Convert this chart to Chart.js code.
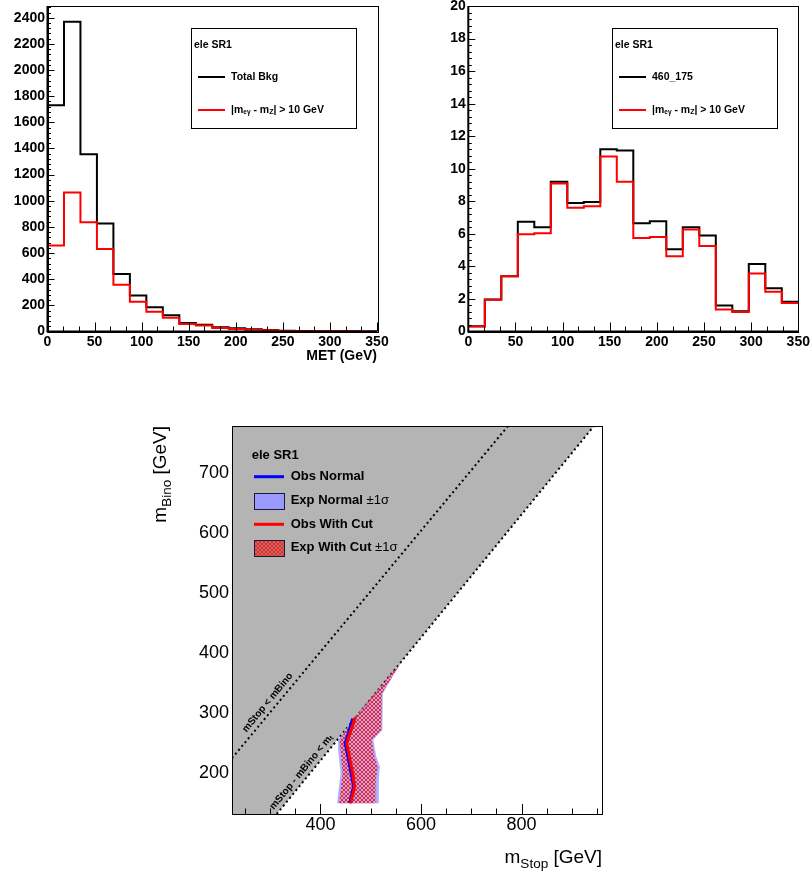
<!DOCTYPE html>
<html>
<head>
<meta charset="utf-8">
<script src="https://cdn.jsdelivr.net/npm/chart.js@4.4.0/dist/chart.umd.min.js"></script>
<style>
html, body { margin: 0; padding: 0; background: #fff; }
#wrap { position: relative; width: 812px; height: 873px; overflow: hidden; }
canvas { position: absolute; }
</style>
</head>
<body>
<div id="wrap">
  <canvas id="met" width="406" height="370" style="left:0;top:0"></canvas>
  <canvas id="sig" width="406" height="370" style="left:406px;top:0"></canvas>
  <canvas id="limit" width="510" height="473" style="left:130px;top:400px"></canvas>
</div>
<script>
const FONT = '"Liberation Sans", Arial, Helvetica, sans-serif';
Chart.defaults.font.family = FONT;
Chart.defaults.color = '#000';

// MET distributions, 20 bins of 17.5 GeV
const metBinWidth = 17.5;
const metTicks = [0, 50, 100, 150, 200, 250, 300, 350];
const totalBkg    = [1730, 2370, 1355, 826, 440, 276, 185, 125, 65, 51, 32, 24, 17, 12, 5, 3, 2, 1, 1, 0];
const totalBkgCut = [657, 1063, 835, 632, 357, 228, 151, 106, 57, 45, 26, 20, 13, 10, 4, 2, 1, 1, 0, 0];
const bkgTicks = [0, 200, 400, 600, 800, 1000, 1200, 1400, 1600, 1800, 2000, 2200, 2400];
const sig460    = [0.33, 1.97, 3.4, 6.75, 6.4, 9.2, 7.9, 7.95, 11.2, 11.12, 6.65, 6.78, 5.05, 6.4, 5.9, 1.6, 1.25, 4.15, 2.65, 1.83];
const sig460Cut = [0.3, 1.95, 3.4, 5.97, 6.03, 9.1, 7.6, 7.7, 10.75, 9.2, 5.75, 5.8, 4.63, 6.27, 5.25, 1.35, 1.2, 3.57, 2.45, 1.75];
const sigTicks = [0, 2, 4, 6, 8, 10, 12, 14, 16, 18, 20];

// exclusion plane (mStop, mBino)
const stopTicks = [400, 600, 800];
const binoTicks = [200, 300, 400, 500, 600, 700];
const kinRegion = [[224, 132], [313, 132], [944, 779], [224, 779]];
const lineStopBino = [[224, 225], [773, 779]];
const lineStopBinoTop = [[313, 132], [944, 779]];
const expNormalBand = [[433, 150], [440, 200], [435, 239], [435, 256], [468, 293], [561, 386], [524, 333], [523, 272], [505, 256], [511, 228], [518, 211], [516, 189], [516, 150]];
const expCutBand = [[437, 150], [444, 200], [440, 239], [438, 256], [468, 293], [561, 386], [522, 333], [521, 272], [502, 256], [507, 228], [514, 211], [510, 189], [509, 150]];
const obsNormal = [[458, 150], [466, 178], [461, 200], [452, 239], [449, 250], [456, 268], [464, 291]];
const obsCut = [[460, 150], [468, 178], [464, 200], [455, 239], [452, 250], [458, 265], [469, 293]];

function histPoints(vals) {
    const pts = vals.map((v, i) => ({x: i * metBinWidth, y: v}));
    pts.push({x: vals.length * metBinWidth, y: vals[vals.length - 1]});
    return pts;
}

function toXY(pts, close) {
    const out = pts.map(p => ({x: p[0], y: p[1]}));
    if (close) out.push({x: pts[0][0], y: pts[0][1]});
    return out;
}

function drawPieces(ctx, x, y, pieces) {
    let cx = x;
    for (const p of pieces) {
        ctx.font = p.font;
        ctx.fillText(p.t, cx, y + (p.dy || 0));
        cx += ctx.measureText(p.t).width;
    }
}

function piecesWidth(ctx, pieces) {
    let w = 0;
    for (const p of pieces) {
        ctx.font = p.font;
        w += ctx.measureText(p.t).width;
    }
    return w;
}

const plain = v => String(v);

// ROOT style inner ticks and frame
const rootFrame = {
    id: 'rootFrame',
    afterDatasetsDraw(chart, args, o) {
        const {ctx, chartArea: a, scales} = chart;
        ctx.save();
        ctx.strokeStyle = '#000';
        ctx.lineWidth = 1;
        ctx.beginPath();
        const tk = (s, t, horiz) => {
            const [major, sub, lenMaj, lenMin] = t;
            const step = major / sub;
            for (let k = Math.ceil(s.min / step - 1e-6); k * step <= s.max + 1e-6; k++) {
                const len = k % sub === 0 ? lenMaj : lenMin;
                const p = Math.round(s.getPixelForValue(k * step)) + 0.5;
                if (horiz) { ctx.moveTo(p, a.bottom); ctx.lineTo(p, a.bottom - len); }
                else { ctx.moveTo(a.left, p); ctx.lineTo(a.left + len, p); }
            }
        };
        if (o.x) tk(scales.x, o.x, true);
        if (o.y) tk(scales.y, o.y, false);
        ctx.stroke();
        ctx.strokeRect(Math.round(a.left) + 0.5, Math.round(a.top) + 0.5,
            Math.round(a.right - a.left), Math.round(a.bottom - a.top));
        if (o.axisWidth) {
            ctx.lineWidth = o.axisWidth;
            ctx.beginPath();
            ctx.moveTo(a.left, a.top);
            ctx.lineTo(a.left, a.bottom);
            ctx.lineTo(a.right, a.bottom);
            ctx.stroke();
        }
        ctx.restore();
    }
};

const histLegend = {
    id: 'histLegend',
    afterDraw(chart, args, o) {
        const {ctx, chartArea: a} = chart;
        const L = Math.round(a.right - 186), T = 28, W = 165, H = 100;
        ctx.save();
        ctx.fillStyle = '#fff';
        ctx.fillRect(L, T, W, H);
        ctx.strokeStyle = '#000';
        ctx.lineWidth = 1;
        ctx.strokeRect(L + 0.5, T + 0.5, W, H);
        ctx.fillStyle = '#000';
        ctx.textBaseline = 'middle';
        const b = 'bold 10.5px ' + FONT;
        const s = 'bold 6.5px ' + FONT;
        ctx.font = b;
        ctx.fillText('ele SR1', L + 3, T + 17);
        ctx.lineWidth = 2;
        ctx.strokeStyle = '#000';
        ctx.beginPath(); ctx.moveTo(L + 7, T + 49); ctx.lineTo(L + 34, T + 49); ctx.stroke();
        ctx.strokeStyle = '#ff0000';
        ctx.beginPath(); ctx.moveTo(L + 7, T + 82); ctx.lineTo(L + 34, T + 82); ctx.stroke();
        ctx.font = b;
        ctx.fillText(o.label, L + 40, T + 49);
        drawPieces(ctx, L + 40, T + 82, [
            {t: '|m', font: b}, {t: 'e\u03b3', font: s, dy: 2}, {t: ' - m', font: b},
            {t: 'Z', font: 'bold 7px ' + FONT, dy: 2}, {t: '| > 10 GeV', font: b}
        ]);
        ctx.restore();
    }
};

function histChart(id, black, red, yMax, yTicks, yWidth, padRight, label, yTk, xTitle) {
    return new Chart(document.getElementById(id), {
        type: 'scatter',
        data: {
            datasets: [
                {data: histPoints(red), showLine: true, stepped: 'before', borderColor: '#ff0000',
                 borderWidth: 2, pointRadius: 0, order: 1},
                {data: histPoints(black), showLine: true, stepped: 'before', borderColor: '#000000',
                 borderWidth: 2, pointRadius: 0, order: 2}
            ]
        },
        options: {
            responsive: false,
            devicePixelRatio: 1,
            animation: false,
            layout: {padding: {left: 0, right: padRight, top: 6, bottom: 0}},
            plugins: {
                legend: {display: false},
                tooltip: {enabled: false},
                rootFrame: {x: [50, 3, 9, 5], y: yTk, axisWidth: 2},
                histLegend: {label: label}
            },
            scales: {
                x: {
                    type: 'linear', min: 0, max: 350,
                    grid: {display: false, drawTicks: false},
                    border: {display: false},
                    afterBuildTicks: s => { s.ticks = metTicks.map(v => ({value: v})); },
                    ticks: {font: {size: 14, weight: 'bold'}, padding: 2, maxRotation: 0,
                            autoSkip: false, callback: plain},
                    title: {display: !!xTitle, text: xTitle || '', align: 'end',
                            font: {size: 14, weight: 'bold'}, padding: {top: 0, bottom: 5}},
                    afterFit: s => { s.height = 38.5; s.paddingLeft = 0; s.paddingRight = 0; }
                },
                y: {
                    type: 'linear', min: 0, max: yMax,
                    grid: {display: false, drawTicks: false},
                    border: {display: false},
                    afterBuildTicks: s => { s.ticks = yTicks.map(v => ({value: v})); },
                    ticks: {font: {size: 14, weight: 'bold'}, padding: 2.5, autoSkip: false, callback: plain},
                    afterFit: s => { s.width = yWidth; s.paddingTop = 0; s.paddingBottom = 0; }
                }
            }
        },
        plugins: [rootFrame, histLegend]
    });
}

histChart('met', totalBkg, totalBkgCut, 2490, bkgTicks, 47.5, 29, 'Total Bkg', [200, 5, 7, 3.5], 'MET (GeV)');
histChart('sig', sig460, sig460Cut, 20, sigTicks, 62.3, 13.7, '460_175', [2, 5, 7, 3.5], null);

// hatch pattern for the "with cut" band
const hatch = (() => {
    const c = document.createElement('canvas');
    c.width = 4; c.height = 4;
    const g = c.getContext('2d');
    g.fillStyle = '#ff2020';
    for (let i = 0; i < 4; i++) { g.fillRect(i, i, 1, 1); g.fillRect(3 - i, i, 1, 1); }
    return g.createPattern(c, 'repeat');
})();

const BLUE_BAND = 'rgba(140,140,255,0.7)';
const GRAY = '#b4b4b4';

const limitDecor = {
    id: 'limitDecor',
    afterDatasetDraw(chart, args) {
        if (args.index !== 2) return;
        const {ctx, scales: {x, y}} = chart;
        const ang = Math.atan2(
            y.getPixelForValue(lineStopBinoTop[1][1]) - y.getPixelForValue(lineStopBinoTop[0][1]),
            x.getPixelForValue(lineStopBinoTop[1][0]) - x.getPixelForValue(lineStopBinoTop[0][0]));
        const b = 'bold 10px ' + FONT;
        ctx.save();
        ctx.fillStyle = '#000';
        ctx.textBaseline = 'middle';
        ctx.translate(x.getPixelForValue(295), y.getPixelForValue(318));
        ctx.rotate(ang);
        ctx.font = b;
        ctx.textAlign = 'center';
        ctx.fillText('mStop < mBino', 0, 0);
        ctx.restore();

        ctx.save();
        ctx.fillStyle = '#000';
        ctx.textBaseline = 'middle';
        ctx.translate(x.getPixelForValue(362), y.getPixelForValue(202));
        ctx.rotate(ang);
        const pcs = [{t: 'mStop - mBino < m', font: b}, {t: 't', font: 'bold 7px ' + FONT, dy: 2}];
        drawPieces(ctx, -piecesWidth(ctx, pcs) / 2, 0, pcs);
        ctx.restore();
    },
    afterDraw(chart) {
        const {ctx, chartArea: a} = chart;
        ctx.save();
        ctx.fillStyle = '#000';
        // axis titles
        const big = '19px ' + FONT, sub = '13.5px ' + FONT;
        ctx.textBaseline = 'alphabetic';
        const xt = [{t: 'm', font: big}, {t: 'Stop', font: sub, dy: 5}, {t: ' [GeV]', font: big}];
        drawPieces(ctx, a.right - piecesWidth(ctx, xt), a.bottom + 49, xt);
        const yt = [{t: 'm', font: big}, {t: 'Bino', font: sub, dy: 5}, {t: ' [GeV]', font: big}];
        const yw = piecesWidth(ctx, yt);
        ctx.save();
        ctx.translate(a.left - 66, a.top + yw);
        ctx.rotate(-Math.PI / 2);
        drawPieces(ctx, 0, 0, yt);
        ctx.restore();

        // legend
        const L = a.left, T = a.top;
        const b = 'bold 13px ' + FONT, r = '13px ' + FONT;
        ctx.textBaseline = 'middle';
        ctx.font = b;
        ctx.fillText('ele SR1', L + 19.7, T + 29);
        ctx.lineWidth = 3;
        ctx.strokeStyle = '#0000ff';
        ctx.beginPath(); ctx.moveTo(L + 22, T + 50.7); ctx.lineTo(L + 52, T + 50.7); ctx.stroke();
        ctx.strokeStyle = '#ff0000';
        ctx.beginPath(); ctx.moveTo(L + 22, T + 98.3); ctx.lineTo(L + 52, T + 98.3); ctx.stroke();
        ctx.fillStyle = '#9999ff';
        ctx.fillRect(L + 22, T + 67, 30, 16);
        ctx.fillStyle = 'rgba(170,60,60,0.55)';
        ctx.fillRect(L + 22, T + 114, 30, 16);
        ctx.fillStyle = hatch;
        ctx.fillRect(L + 22, T + 114, 30, 16);
        ctx.lineWidth = 1;
        ctx.strokeStyle = '#1a1a33';
        ctx.strokeRect(L + 22.5, T + 67.5, 30, 16);
        ctx.strokeRect(L + 22.5, T + 114.5, 30, 16);
        ctx.fillStyle = '#000';
        ctx.font = b;
        ctx.fillText('Obs Normal', L + 58.7, T + 50.7);
        drawPieces(ctx, L + 58.7, T + 74.8, [{t: 'Exp Normal ', font: b}, {t: '\u00b11\u03c3', font: r}]);
        ctx.font = b;
        ctx.fillText('Obs With Cut', L + 58.7, T + 98.3);
        drawPieces(ctx, L + 58.7, T + 121.8, [{t: 'Exp With Cut ', font: b}, {t: '\u00b11\u03c3', font: r}]);
        ctx.restore();
    }
};

new Chart(document.getElementById('limit'), {
    type: 'scatter',
    data: {
        datasets: [
            {data: toXY(kinRegion, true), showLine: true, fill: 'shape', backgroundColor: GRAY,
             borderColor: 'rgba(0,0,0,0)', borderWidth: 1, pointRadius: 0, order: 10},
            {data: toXY(lineStopBino), showLine: true, borderColor: '#000', borderWidth: 2,
             borderDash: [2, 3], pointRadius: 0, order: 9},
            {data: toXY(lineStopBinoTop), showLine: true, borderColor: '#000', borderWidth: 2,
             borderDash: [2, 3], pointRadius: 0, order: 8},
            {data: toXY(expNormalBand, true), showLine: true, fill: 'shape', backgroundColor: BLUE_BAND,
             borderColor: 'rgba(0,0,0,0)', borderWidth: 1, pointRadius: 0, order: 7},
            {data: toXY(expCutBand, true), showLine: true, fill: 'shape', backgroundColor: hatch,
             borderColor: 'rgba(0,0,0,0)', borderWidth: 1, pointRadius: 0, order: 6},
            {data: toXY(obsNormal), showLine: true, borderColor: '#0000ff', borderWidth: 3,
             pointRadius: 0, order: 5},
            {data: toXY(obsCut), showLine: true, borderColor: '#ff0000', borderWidth: 3,
             pointRadius: 0, order: 4}
        ]
    },
    options: {
        responsive: false,
        devicePixelRatio: 1,
        animation: false,
        layout: {padding: {left: 0, right: 38, top: 26, bottom: 0}},
        plugins: {
            legend: {display: false},
            tooltip: {enabled: false},
            rootFrame: {x: [200, 4, 10, 5.5]}
        },
        scales: {
            x: {
                type: 'linear', min: 224, max: 960,
                grid: {display: false, drawTicks: false},
                border: {display: false},
                afterBuildTicks: s => { s.ticks = stopTicks.map(v => ({value: v})); },
                ticks: {font: {size: 18}, padding: 0, maxRotation: 0, autoSkip: false, callback: plain},
                afterFit: s => { s.height = 59; s.paddingLeft = 0; s.paddingRight = 0; }
            },
            y: {
                type: 'linear', min: 132, max: 779,
                grid: {display: false, drawTicks: false},
                border: {display: false},
                afterBuildTicks: s => { s.ticks = binoTicks.map(v => ({value: v})); },
                ticks: {font: {size: 18}, padding: 3, autoSkip: false, callback: plain},
                afterFit: s => { s.width = 102; s.paddingTop = 0; s.paddingBottom = 0; }
            }
        }
    },
    plugins: [rootFrame, limitDecor]
});
</script>
</body>
</html>
